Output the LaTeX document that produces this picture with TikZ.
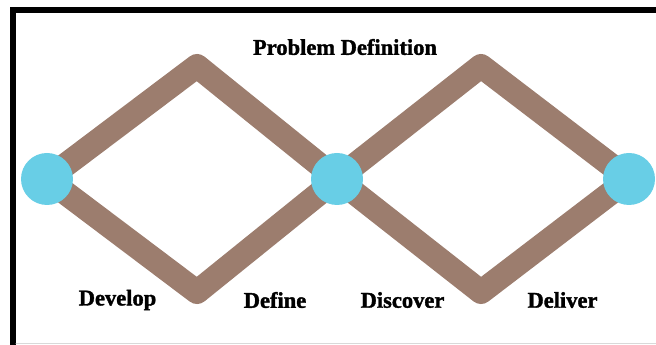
\documentclass[tikz,border=0pt]{standalone}
\usepackage{fontspec}
\setmainfont{Liberation Serif}[BoldFeatures={FakeBold=1.5}]
\usetikzlibrary{backgrounds}
\definecolor{trail}{RGB}{156,125,110}
\definecolor{stage}{RGB}{104,206,230}
\begin{document}
\begin{tikzpicture}[x=1pt,y=1pt,line join=round,line cap=round]
	\tikzset{hub/.style={circle,fill=stage,minimum size=52pt,inner sep=0pt},
		phase/.style={font=\bfseries\fontsize{22.5}{22.5}\selectfont,inner sep=0pt}}
	\useasboundingbox (0,0) rectangle (656,345);
	% frame
	\fill (10,332) rectangle (656,338);
	\fill (10,0) rectangle (16,338);
	\draw[black!15,line width=1pt] (16,1.5)--(656,1.5);
	% stages
	\node[hub] (s) at (47,166) {};
	\node[hub] (m) at (337,166) {};
	\node[hub] (e) at (629,166) {};
	\coordinate (ta) at (197,279);
	\coordinate (ba) at (197,53);
	\coordinate (tb) at (481,279);
	\coordinate (bb) at (481,53);
	\begin{scope}[on background layer]
		\draw[trail,line width=24pt,line join=round] (s.center)--(ta)--(m.center)--(tb)--(e.center)--(bb)--(m.center)--(ba)--cycle;
	\end{scope}
	% labels
	\node[phase] (pd) at (345,298) {Problem Definition};
	\foreach \x/\t/\n in {117.5/Develop/dv,275/Define/df,402.5/Discover/dc,562.5/Deliver/dl}
	\node[phase] (\n) at (\x,45) {\t};
\end{tikzpicture}
\end{document}
